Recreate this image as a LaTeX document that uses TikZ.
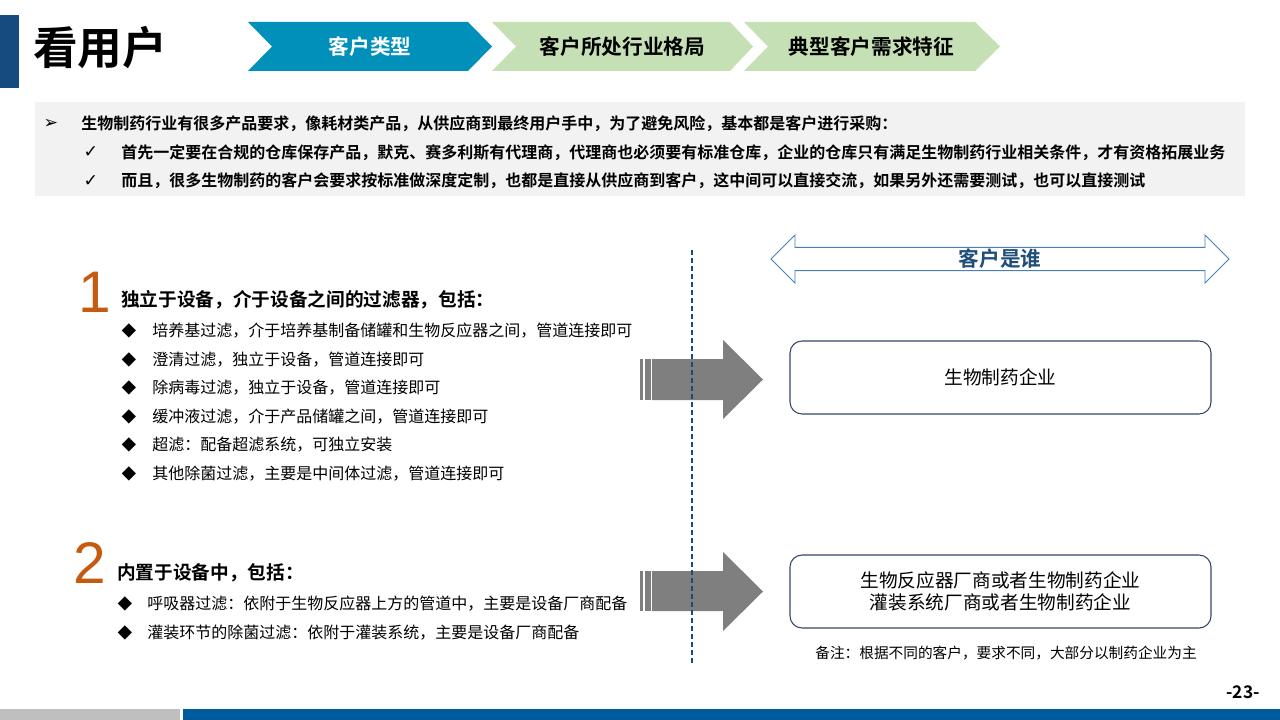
\documentclass[tikz,border=0pt]{standalone}
\usepackage{fontspec}
\setmainfont{Noto Sans CJK SC}[BoldFont={Noto Sans CJK SC Bold}]
\newfontfamily\symfont{DejaVu Sans}
\newfontfamily\numfont{Liberation Sans}
\usetikzlibrary{shapes.arrows}

\definecolor{barblue}{RGB}{21,76,128}
\definecolor{tabblue}{RGB}{0,144,186}
\definecolor{tabgreen}{RGB}{197,224,180}
\definecolor{panelgray}{RGB}{242,242,242}
\definecolor{numorange}{RGB}{197,90,17}
\definecolor{arrowgray}{RGB}{127,127,127}
\definecolor{lineblue}{RGB}{31,73,125}
\definecolor{whoblue}{RGB}{31,78,121}
\definecolor{whoedge}{RGB}{74,126,187}
\definecolor{boxedge}{RGB}{50,70,100}
\definecolor{footgray}{RGB}{191,191,191}
\definecolor{footblue}{RGB}{0,90,158}

\begin{document}
\begin{tikzpicture}[
    x=0.75pt, y=-0.75pt,
    tabtext/.style={inner sep=0, font=\fontsize{15.5}{18}\selectfont\bfseries},
    paneltext/.style={anchor=west, inner sep=0, font=\fontsize{12}{14}\selectfont\bfseries},
    panelmark/.style={inner sep=0, font=\symfont\fontsize{13}{15}\selectfont},
    bignum/.style={anchor=base, inner sep=0, text=numorange, font=\numfont\fontsize{44}{50}\selectfont},
    heading/.style={anchor=west, inner sep=0, font=\fontsize{14}{16}\selectfont\bfseries},
    itemmark/.style={inner sep=0, font=\fontsize{11}{13}\selectfont},
    itemtext/.style={anchor=west, inner sep=0, font=\fontsize{12}{14}\selectfont},
    custbox/.style={draw=boxedge, line width=0.8pt, rounded corners=9pt, minimum width=315.75pt, minimum height=54.75pt, align=center, font=\fontsize{14}{16.5}\selectfont},
    bigarrow/.style={fill=arrowgray, draw=none}
]
\useasboundingbox (0,0) rectangle (1280,720);

% === HEADER ===
\fill[barblue] (0,15) rectangle (19,88);
\node[inner sep=0, font=\fontsize{33.5}{38}\selectfont\bfseries] (title) at (100,48) {看用户};

% tabs
\fill[tabblue] (248,22) -- (468,22) -- (492,46.5) -- (468,71) -- (248,71) -- (272,46.5) -- cycle;
\fill[tabgreen] (492,22) -- (730,22) -- (753,46.5) -- (730,71) -- (492,71) -- (516,46.5) -- cycle;
\fill[tabgreen] (744,22) -- (975,22) -- (1000,46.5) -- (975,71) -- (744,71) -- (768,46.5) -- cycle;
\node[tabtext, text=white] (tab1) at (370,46.5) {客户类型};
\node[tabtext] (tab2) at (622.5,46.5) {客户所处行业格局};
\node[tabtext] (tab3) at (871.5,46.5) {典型客户需求特征};

% === SUMMARY PANEL ===
\fill[panelgray] (35,102) rectangle (1245,196);
\node[panelmark] (m0) at (51,124) {➢};
\node[paneltext] (p0) at (81,124) {生物制药行业有很多产品要求，像耗材类产品，从供应商到最终用户手中，为了避免风险，基本都是客户进行采购：};
\node[panelmark] (m1) at (91,152.5) {✓};
\node[paneltext] (p1) at (121,152.5) {首先一定要在合规的仓库保存产品，默克、赛多利斯有代理商，代理商也必须要有标准仓库，企业的仓库只有满足生物制药行业相关条件，才有资格拓展业务};
\node[panelmark] (m2) at (91,181) {✓};
\node[paneltext] (p2) at (121,181) {而且，很多生物制药的客户会要求按标准做深度定制，也都是直接从供应商到客户，这中间可以直接交流，如果另外还需要测试，也可以直接测试};

% === LEFT SIDE: filter types ===
\node[bignum] (n1) at (95,312) {1};
\node[heading] (h1) at (121,300) {独立于设备，介于设备之间的过滤器，包括：};
\node[itemmark] (d11) at (129,330.5) {◆};
\node[itemtext] (t11) at (152,330.5) {培养基过滤，介于培养基制备储罐和生物反应器之间，管道连接即可};
\node[itemmark] (d12) at (129,359.5) {◆};
\node[itemtext] (t12) at (152,359.5) {澄清过滤，独立于设备，管道连接即可};
\node[itemmark] (d13) at (129,388) {◆};
\node[itemtext] (t13) at (152,388) {除病毒过滤，独立于设备，管道连接即可};
\node[itemmark] (d14) at (129,417) {◆};
\node[itemtext] (t14) at (152,417) {缓冲液过滤，介于产品储罐之间，管道连接即可};
\node[itemmark] (d15) at (129,445) {◆};
\node[itemtext] (t15) at (152,445) {超滤：配备超滤系统，可独立安装};
\node[itemmark] (d16) at (129,473.5) {◆};
\node[itemtext] (t16) at (152,473.5) {其他除菌过滤，主要是中间体过滤，管道连接即可};

\node[bignum] (n2) at (89.5,583) {2};
\node[heading] (h2) at (117,573) {内置于设备中，包括：};
\node[itemmark] (d21) at (125,603.5) {◆};
\node[itemtext] (t21) at (147,603.5) {呼吸器过滤：依附于生物反应器上方的管道中，主要是设备厂商配备};
\node[itemmark] (d22) at (125,632.5) {◆};
\node[itemtext] (t22) at (147,632.5) {灌装环节的除菌过滤：依附于灌装系统，主要是设备厂商配备};

% big arrows
\fill[arrowgray] (640,359) rectangle (643,400);
\fill[arrowgray] (645,359) rectangle (651,400);
\fill[bigarrow] (652,359) -- (723,359) -- (723,340) -- (763,379.5) -- (723,419) -- (723,400) -- (652,400) -- cycle;
\fill[arrowgray] (640,571) rectangle (643,611);
\fill[arrowgray] (645,571) rectangle (651,611);
\fill[bigarrow] (652,571) -- (723,571) -- (723,552) -- (763,591.5) -- (723,631) -- (723,611) -- (652,611) -- cycle;

% divider
\coordinate (divtop) at (692,250);
\coordinate (divbot) at (692,663);
\draw[lineblue, line width=1.5pt, dash pattern=on 3.5pt off 2.5pt] (divtop) -- (divbot);

% === RIGHT SIDE: who are the customers ===
\node[double arrow, draw=whoedge, line width=0.6pt, double arrow head extend=8.25pt, minimum width=36pt, minimum height=343.5pt, inner sep=0, text=whoblue, font=\fontsize{15.5}{18}\selectfont\bfseries] (who) at (1000,259) {客户是谁};

\node[custbox] (cust1) at (1000.5,377.5) {生物制药企业};
\node[custbox] (cust2) at (1000.5,591.5) {生物反应器厂商或者生物制药企业\\灌装系统厂商或者生物制药企业};
\node[inner sep=0, font=\fontsize{11}{13}\selectfont] (note) at (1006,653) {备注：根据不同的客户，要求不同，大部分以制药企业为主};

% === FOOTER ===
\node[inner sep=0, font=\fontsize{13}{15}\selectfont\bfseries] (page) at (1243,692) {-23-};
\fill[footgray] (0,709) rectangle (180,720);
\fill[footblue] (183,709) rectangle (1280,720);

\end{tikzpicture}
\end{document}
